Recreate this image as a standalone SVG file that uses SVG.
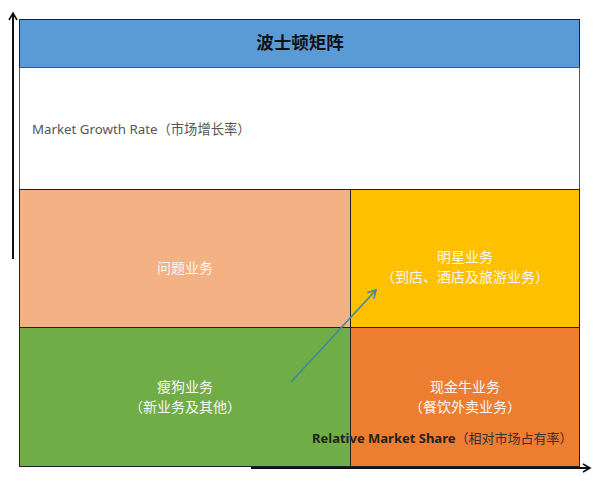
<svg xmlns="http://www.w3.org/2000/svg" width="600" height="483" viewBox="0 0 600 483">
<style>
.q{stroke:#222;stroke-width:1}
.lbl{font-family:"Noto Sans","Noto Sans CJK SC",sans-serif;font-size:14px;fill:#F7F7F7;text-anchor:middle}
.axis{stroke:#111;stroke-width:2;fill:none}
</style>
<defs>
<marker id="ah" markerWidth="10" markerHeight="10" refX="8" refY="5" orient="auto" markerUnits="userSpaceOnUse">
<polyline points="1,1 8,5 1,9" fill="none" stroke="#111" stroke-width="1.6"/>
</marker>
<marker id="ah2" markerWidth="12" markerHeight="12" refX="10" refY="6" orient="auto" markerUnits="userSpaceOnUse">
<polyline points="2,1.5 10,6 2,10.5" fill="none" stroke="#3E8A9E" stroke-width="1.6"/>
</marker>
</defs>
<rect width="600" height="483" fill="#fff"/>
<g id="title">
<rect class="q" x="19.5" y="19.5" width="560" height="48" fill="#5B9BD5"/>
<text x="300" y="49" font-family="Noto Sans CJK SC,sans-serif" font-size="17.5" font-weight="bold" fill="#111" text-anchor="middle">波士顿矩阵</text>
</g>
<g id="growth">
<rect x="19.5" y="67.5" width="560" height="122" fill="#fff" stroke="#555" stroke-width="1"/>
<text x="32" y="134" font-family="Noto Sans,Noto Sans CJK SC,sans-serif" font-size="13.3" fill="#555">Market Growth Rate（市场增长率）</text>
</g>
<g id="question">
<rect class="q" x="19.5" y="189.5" width="331" height="138" fill="#F4B183"/>
<text class="lbl" x="185" y="273">问题业务</text>
</g>
<g id="star">
<rect class="q" x="350.5" y="189.5" width="229" height="138" fill="#FFC000"/>
<text class="lbl" x="465" y="262">明星业务</text>
<text class="lbl" x="465" y="282">（到店、酒店及旅游业务）</text>
</g>
<g id="dog">
<rect class="q" x="19.5" y="327.5" width="331" height="139" fill="#70AD47"/>
<text class="lbl" x="185" y="392">瘦狗业务</text>
<text class="lbl" x="185" y="412">（新业务及其他）</text>
</g>
<g id="cow">
<rect class="q" x="350.5" y="327.5" width="229" height="139" fill="#ED7D31"/>
<text class="lbl" x="465" y="392">现金牛业务</text>
<text class="lbl" x="465" y="412">（餐饮外卖业务）</text>
</g>
<g id="share">
<text x="312" y="443" font-family="Noto Sans,Noto Sans CJK SC,sans-serif" font-size="13" fill="#222"><tspan font-weight="bold">Relative Market Share</tspan><tspan fill="#333">（相对市场占有率）</tspan></text>
</g>
<g id="connectors">
<line class="axis" x1="13" y1="259" x2="13" y2="13" marker-end="url(#ah)"/>
<line class="axis" x1="251" y1="468" x2="590" y2="468" marker-end="url(#ah)"/>
<line x1="291" y1="382" x2="376" y2="290" stroke="#3E8A9E" stroke-width="1.6" marker-end="url(#ah2)"/>
</g>
</svg>
